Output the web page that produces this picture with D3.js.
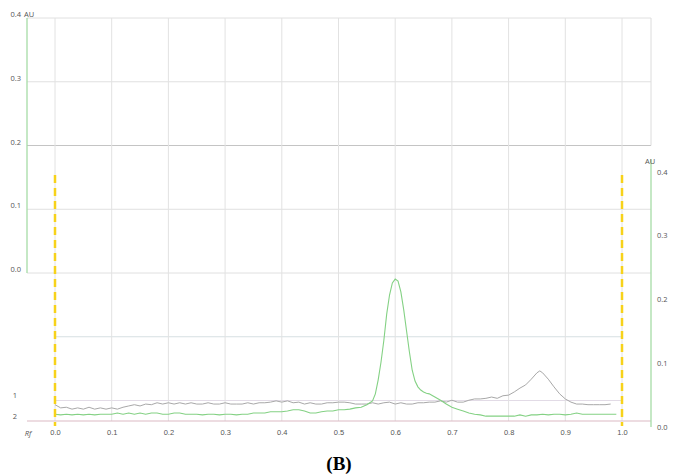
<!DOCTYPE html>
<html>
<head>
<meta charset="utf-8">
<script src="https://cdn.jsdelivr.net/npm/d3@7"></script>
<style>
  body { margin: 0; background: #fff; }
  svg { display: block; font-family: "Open Sans", "DejaVu Sans", sans-serif; }
  .lab { font-size: 7.5px; fill: #555; }
</style>
</head>
<body>
<svg id="chart" width="673" height="475"></svg>
<script>
// tick values
var rfTicks = [0, 0.1, 0.2, 0.3, 0.4, 0.5, 0.6, 0.7, 0.8, 0.9, 1.0];
var auTicks = [0, 0.1, 0.2, 0.3, 0.4];
var trackNames = ['1', '2'];

// track 1 (grey) - [Rf, AU]
var track1 = [
    [0.00, 0.035], [0.01, 0.030], [0.02, 0.031], [0.03, 0.028], [0.04, 0.030],
    [0.05, 0.028], [0.06, 0.031], [0.07, 0.028], [0.08, 0.030], [0.09, 0.028],
    [0.10, 0.030], [0.11, 0.028], [0.12, 0.031], [0.13, 0.033], [0.14, 0.035],
    [0.15, 0.033], [0.16, 0.036], [0.17, 0.035], [0.18, 0.038], [0.19, 0.036],
    [0.20, 0.038], [0.21, 0.036], [0.22, 0.038], [0.23, 0.036], [0.24, 0.038],
    [0.25, 0.036], [0.26, 0.036], [0.27, 0.038], [0.28, 0.036], [0.29, 0.036],
    [0.30, 0.038], [0.31, 0.036], [0.32, 0.036], [0.33, 0.036], [0.34, 0.038],
    [0.35, 0.036], [0.36, 0.038], [0.37, 0.038], [0.38, 0.039], [0.39, 0.041],
    [0.40, 0.039], [0.41, 0.041], [0.42, 0.038], [0.43, 0.039], [0.44, 0.036],
    [0.45, 0.038], [0.46, 0.036], [0.47, 0.036], [0.48, 0.038], [0.49, 0.038],
    [0.50, 0.039], [0.51, 0.039], [0.52, 0.038], [0.53, 0.036], [0.54, 0.036],
    [0.55, 0.036], [0.56, 0.038], [0.57, 0.036], [0.58, 0.038], [0.59, 0.039],
    [0.60, 0.036], [0.61, 0.038], [0.62, 0.036], [0.63, 0.036], [0.64, 0.038],
    [0.65, 0.038], [0.66, 0.039], [0.67, 0.039], [0.68, 0.041], [0.69, 0.039],
    [0.70, 0.042], [0.71, 0.039], [0.72, 0.039], [0.73, 0.042], [0.74, 0.044],
    [0.75, 0.044], [0.76, 0.045], [0.77, 0.047], [0.78, 0.045], [0.79, 0.049],
    [0.80, 0.050], [0.81, 0.055], [0.82, 0.061], [0.83, 0.066], [0.84, 0.075],
    [0.85, 0.085], [0.855, 0.088], [0.86, 0.085], [0.87, 0.075], [0.88, 0.063],
    [0.89, 0.052], [0.90, 0.044], [0.91, 0.039], [0.92, 0.036], [0.93, 0.036],
    [0.94, 0.035], [0.95, 0.035], [0.96, 0.035], [0.97, 0.035], [0.98, 0.036]
];

// track 2 (green) - [Rf, AU]
var track2 = [
    [0.00, 0.020], [0.01, 0.019], [0.02, 0.020], [0.03, 0.019], [0.04, 0.020],
    [0.05, 0.019], [0.06, 0.020], [0.07, 0.019], [0.08, 0.020], [0.09, 0.020],
    [0.10, 0.020], [0.11, 0.022], [0.12, 0.020], [0.13, 0.022], [0.14, 0.020],
    [0.15, 0.022], [0.16, 0.020], [0.17, 0.022], [0.18, 0.022], [0.19, 0.020],
    [0.20, 0.020], [0.21, 0.022], [0.22, 0.022], [0.23, 0.020], [0.24, 0.020],
    [0.25, 0.020], [0.26, 0.019], [0.27, 0.020], [0.28, 0.020], [0.29, 0.019],
    [0.30, 0.020], [0.31, 0.020], [0.32, 0.019], [0.33, 0.020], [0.34, 0.020],
    [0.35, 0.022], [0.36, 0.022], [0.37, 0.022], [0.38, 0.024], [0.39, 0.024],
    [0.40, 0.024], [0.41, 0.025], [0.42, 0.027], [0.43, 0.027], [0.44, 0.025],
    [0.45, 0.022], [0.46, 0.022], [0.47, 0.024], [0.48, 0.025], [0.49, 0.025],
    [0.50, 0.027], [0.51, 0.027], [0.52, 0.028], [0.53, 0.030], [0.54, 0.031],
    [0.55, 0.035], [0.56, 0.041], [0.565, 0.052], [0.57, 0.074], [0.575, 0.102],
    [0.58, 0.136], [0.585, 0.177], [0.59, 0.207], [0.595, 0.226], [0.60, 0.232],
    [0.605, 0.229], [0.61, 0.212], [0.615, 0.184], [0.62, 0.151], [0.625, 0.118],
    [0.63, 0.089], [0.635, 0.072], [0.64, 0.063], [0.645, 0.058], [0.65, 0.055],
    [0.655, 0.053], [0.66, 0.052], [0.67, 0.047], [0.68, 0.042], [0.69, 0.036],
    [0.70, 0.031], [0.71, 0.028], [0.72, 0.025], [0.73, 0.022], [0.74, 0.020],
    [0.75, 0.019], [0.76, 0.017], [0.77, 0.017], [0.78, 0.017], [0.79, 0.017],
    [0.80, 0.017], [0.81, 0.017], [0.82, 0.019], [0.83, 0.017], [0.84, 0.019],
    [0.85, 0.019], [0.86, 0.020], [0.87, 0.019], [0.88, 0.020], [0.89, 0.020],
    [0.90, 0.019], [0.91, 0.020], [0.92, 0.022], [0.93, 0.020], [0.94, 0.020],
    [0.95, 0.020], [0.96, 0.020], [0.97, 0.020], [0.98, 0.020], [0.99, 0.020]
];

var svg = d3.select('#chart');

var x = d3.scaleLinear().domain([0, 1]).range([55, 622]);
var yLeft = d3.scaleLinear().domain([0, 0.4]).range([273, 18]);
var yRight = d3.scaleLinear().domain([0, 0.4]).range([427, 172]);

var leftX = 27, rightX = 651, bottomY = 421;

var grid = svg.append('g');

// upper horizontal grid (left scale)
grid.selectAll('.hg')
    .data(auTicks)
    .enter().append('line')
    .attr('x1', leftX).attr('x2', rightX)
    .attr('y1', function(d) { return yLeft(d); })
    .attr('y2', function(d) { return yLeft(d); })
    .attr('stroke', function(d) { return d == 0.2 ? '#c4c4c4' : '#e0e0e0'; })
    .attr('stroke-width', 1);

// lower lines continuing the grid spacing (track baselines)
grid.append('line')
    .attr('x1', x(0)).attr('x2', x(1))
    .attr('y1', yLeft(-0.1)).attr('y2', yLeft(-0.1))
    .attr('stroke', '#d6dfe2');
grid.append('line')
    .attr('x1', x(0)).attr('x2', x(1))
    .attr('y1', yLeft(-0.2)).attr('y2', yLeft(-0.2))
    .attr('stroke', '#e2dbe6');

// vertical grid
grid.selectAll('.vg')
    .data(rfTicks)
    .enter().append('line')
    .attr('x1', function(d) { return x(d); })
    .attr('x2', function(d) { return x(d); })
    .attr('y1', yLeft(0.4)).attr('y2', bottomY)
    .attr('stroke', '#e2e2e2');

// right border above right axis
grid.append('line')
    .attr('x1', rightX).attr('x2', rightX)
    .attr('y1', yLeft(0.4)).attr('y2', yLeft(0.2))
    .attr('stroke', '#dcdcdc');

// bottom baseline
svg.append('line')
    .attr('x1', leftX).attr('x2', rightX)
    .attr('y1', bottomY).attr('y2', bottomY)
    .attr('stroke', '#dcb9c4').attr('stroke-width', 1.2);

// axis lines (green)
svg.append('line')
    .attr('x1', leftX).attr('x2', leftX)
    .attr('y1', yLeft(0.4)).attr('y2', yLeft(0))
    .attr('stroke', '#a6dca6').attr('stroke-width', 1.3);
svg.append('line')
    .attr('x1', rightX).attr('x2', rightX)
    .attr('y1', yRight(0.42)).attr('y2', yRight(0))
    .attr('stroke', '#a6dca6').attr('stroke-width', 1.3);

// curves
var line = d3.line()
    .x(function(d) { return x(d[0]); })
    .y(function(d) { return yRight(d[1]); })
    .curve(d3.curveLinear);

svg.append('path')
    .datum(track1)
    .attr('d', line)
    .attr('fill', 'none')
    .attr('stroke', '#a8a8a8')
    .attr('stroke-width', 1);

svg.append('path')
    .datum(track2)
    .attr('d', line)
    .attr('fill', 'none')
    .attr('stroke', '#84d184')
    .attr('stroke-width', 1.1);

// yellow start / front markers
svg.selectAll('.marker')
    .data([0, 1])
    .enter().append('line')
    .attr('x1', function(d) { return x(d); })
    .attr('x2', function(d) { return x(d); })
    .attr('y1', 175).attr('y2', 426)
    .attr('stroke', '#f7d21a')
    .attr('stroke-width', 2.5)
    .attr('stroke-dasharray', '8,5');

// x axis labels
var xAxis = svg.append('g')
    .attr('transform', 'translate(0,' + 430 + ')')
    .call(d3.axisBottom(x).tickValues(rfTicks).tickFormat(d3.format('.1f')).tickSize(0).tickPadding(0));
xAxis.select('.domain').remove();
xAxis.selectAll('text').attr('class', 'lab').attr('font-family', null).attr('font-size', null).attr('fill', null);

svg.append('text')
    .attr('class', 'lab')
    .attr('x', 28).attr('y', 436)
    .attr('text-anchor', 'middle')
    .attr('font-style', 'italic')
    .text('Rf');

// left axis labels
svg.selectAll('.ll')
    .data(auTicks)
    .enter().append('text')
    .attr('class', 'lab')
    .attr('x', 21).attr('y', function(d) { return yLeft(d) - 1; })
    .attr('text-anchor', 'end')
    .text(function(d) { return d.toFixed(1); });
svg.append('text')
    .attr('class', 'lab')
    .attr('x', 24).attr('y', yLeft(0.4) - 1)
    .text('AU');

// right axis labels
svg.selectAll('.rl')
    .data(auTicks)
    .enter().append('text')
    .attr('class', 'lab')
    .attr('x', 657).attr('y', function(d) { return yRight(d) + 2.5; })
    .text(function(d) { return d.toFixed(1); });
svg.append('text')
    .attr('class', 'lab')
    .attr('x', 650).attr('y', yRight(0.4) - 8)
    .attr('text-anchor', 'middle')
    .text('AU');

// track numbers
svg.selectAll('.tn')
    .data(trackNames)
    .enter().append('text')
    .attr('class', 'lab')
    .attr('x', 15)
    .attr('y', function(d, i) { return i == 0 ? 398 : 419; })
    .attr('text-anchor', 'middle')
    .text(function(d) { return d; });

// caption
svg.append('text')
    .attr('x', 339).attr('y', 470)
    .attr('text-anchor', 'middle')
    .attr('font-family', '"Liberation Serif", "Times New Roman", serif')
    .attr('font-weight', 'bold')
    .attr('font-size', 19)
    .attr('fill', '#000')
    .text('(B)');
</script>
</body>
</html>
